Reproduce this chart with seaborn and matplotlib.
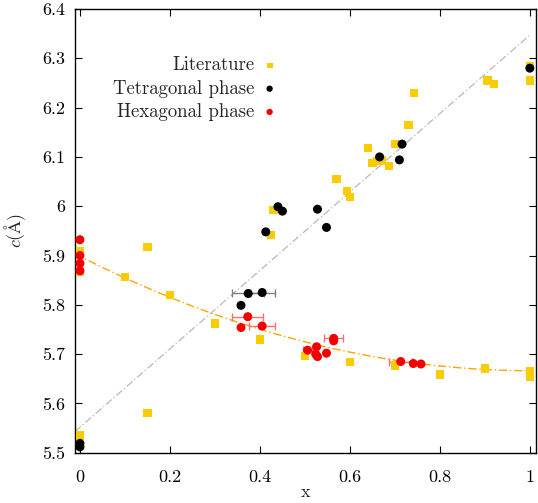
import numpy as np
import pandas as pd
import matplotlib
matplotlib.use("Agg")
import matplotlib.pyplot as plt
import seaborn as sns
from matplotlib.ticker import FuncFormatter, FixedLocator

# ---------------- data ----------------
lit_x = [0.0, 0.0, 0.0, 0.1, 0.15, 0.15, 0.2, 0.3, 0.4, 0.424, 0.43,
         0.5, 0.57, 0.593, 0.6, 0.6, 0.64, 0.65, 0.661, 0.672, 0.687,
         0.701, 0.73, 0.742, 0.7, 0.8, 0.9, 0.906, 0.921, 1.0, 1.0, 1.0, 1.0]
lit_y = [5.535, 5.908, 5.867, 5.857, 5.917, 5.58, 5.82, 5.762, 5.73, 5.942, 5.992,
         5.696, 6.055, 6.031, 6.019, 5.684, 6.118, 6.087, 6.092, 6.093, 6.082,
         6.126, 6.165, 6.23, 5.677, 5.659, 5.671, 6.255, 6.248, 6.255, 6.285, 5.666, 5.654]

tet_x = [0.0, 0.0, 0.358, 0.374, 0.405, 0.413, 0.44, 0.45, 0.528, 0.548,
         0.666, 0.71, 0.716, 1.0]
tet_y = [5.519, 5.512, 5.799, 5.823, 5.825, 5.948, 5.999, 5.990, 5.994, 5.957,
         6.100, 6.094, 6.126, 6.280]
tet_xerr = [0, 0, 0, 0.035, 0.028, 0, 0, 0, 0, 0, 0, 0, 0, 0]

hex_x = [0.0, 0.0, 0.0, 0.0, 0.358, 0.373, 0.405, 0.506, 0.526, 0.524, 0.528,
         0.548, 0.564, 0.564, 0.713, 0.741, 0.758]
hex_y = [5.932, 5.900, 5.884, 5.869, 5.754, 5.776, 5.757, 5.708, 5.715, 5.700, 5.695,
         5.702, 5.732, 5.727, 5.685, 5.681, 5.680]
hex_xerr = [0, 0, 0, 0, 0, 0.034, 0.029, 0.01, 0, 0, 0,
            0, 0.021, 0, 0.026, 0, 0]

# fit line read-off points (hexagonal trend) and linear (tetragonal) endpoints
hfit_x = [0.011, 0.1, 0.2, 0.304, 0.6, 0.689, 0.9, 1.0]
hfit_y = [5.889, 5.858, 5.820, 5.777, 5.703, 5.687, 5.671, 5.666]
tfit_x = [-0.011, 1.0]
tfit_y = [5.543, 6.347]

# ---------------- style ----------------
sns.set_theme(style="ticks")
plt.rcParams['font.family'] = ['cmr10', 'DejaVu Serif']
plt.rcParams['mathtext.fontset'] = 'cm'
plt.rcParams['axes.formatter.use_mathtext'] = True
plt.rcParams['axes.unicode_minus'] = False

YEL = '#f9cc00'
RED = '#f20000'

fig = plt.figure(figsize=(5.38, 5.03), dpi=100)
ax = fig.add_axes([0.1394, 0.0999, 0.8563, 0.8822])

# fitted curves
coef = np.polyfit(hfit_x, hfit_y, 2)
xs = np.linspace(-0.011, 1.0, 200)
curve = pd.DataFrame({'x': xs, 'y': np.polyval(coef, xs)})
sns.lineplot(data=curve, x='x', y='y', ax=ax, color='#ffa500', lw=1.0,
             linestyle=(0, (6, 2, 1, 2)), zorder=1)
lin = pd.DataFrame({'x': tfit_x, 'y': tfit_y})
sns.lineplot(data=lin, x='x', y='y', ax=ax, color='#b8b8b8', lw=0.9,
             linestyle=(0, (6, 2, 1, 2)), zorder=1)

# error bars
tx = np.array(tet_x); ty = np.array(tet_y); te = np.array(tet_xerr)
m = te > 0
ax.errorbar(tx[m], ty[m], xerr=te[m], fmt='none', ecolor='#808080', elinewidth=1.0,
            capsize=3, capthick=1.0, zorder=2)
hx = np.array(hex_x); hy = np.array(hex_y); he = np.array(hex_xerr)
m = he > 0
ax.errorbar(hx[m], hy[m], xerr=he[m], fmt='none', ecolor='#ff7070', elinewidth=1.0,
            capsize=3, capthick=1.0, zorder=2)

df_lit = pd.DataFrame({'x': lit_x, 'y': lit_y})
df_tet = pd.DataFrame({'x': tet_x, 'y': tet_y})
df_hex = pd.DataFrame({'x': hex_x, 'y': hex_y})
sns.scatterplot(data=df_lit, x='x', y='y', ax=ax, marker='s', s=36, color=YEL,
                edgecolor='none', linewidth=0, label='Literature', zorder=3)
sns.scatterplot(data=df_tet, x='x', y='y', ax=ax, marker='o', s=42, color='black',
                edgecolor='none', linewidth=0, label='Tetragonal phase', zorder=4)
sns.scatterplot(data=df_hex, x='x', y='y', ax=ax, marker='o', s=42, color=RED,
                edgecolor='none', linewidth=0, label='Hexagonal phase', zorder=4)

ax.set_xlim(-0.011, 1.013)
ax.set_ylim(5.5, 6.4)
ax.xaxis.set_major_locator(FixedLocator([0, 0.2, 0.4, 0.6, 0.8, 1.0]))
ax.yaxis.set_major_locator(FixedLocator([5.5, 5.6, 5.7, 5.8, 5.9, 6.0, 6.1, 6.2, 6.3, 6.4]))
fmt = FuncFormatter(lambda v, p: '%g' % round(v, 3))
ax.xaxis.set_major_formatter(fmt)
ax.yaxis.set_major_formatter(fmt)
ax.tick_params(direction='in', length=5, width=0.8, top=True, right=True,
               labelsize=13, colors='black', pad=7)
ax.tick_params(axis='x', pad=12)
for s in ax.spines.values():
    s.set_linewidth(1.0)
    s.set_color('black')

ax.set_xlabel('x', fontsize=13, labelpad=0)
ax.set_ylabel(r'$c(\mathrm{\AA})$', fontsize=13, labelpad=10)

leg = ax.legend(loc='upper right', bbox_to_anchor=(0.455, 0.91), frameon=False,
                markerfirst=False, fontsize=13.5, handletextpad=0.4, handlelength=0.8,
                labelspacing=0.28, borderaxespad=0, markerscale=0.7)

fig.savefig('out.png', dpi=100)
